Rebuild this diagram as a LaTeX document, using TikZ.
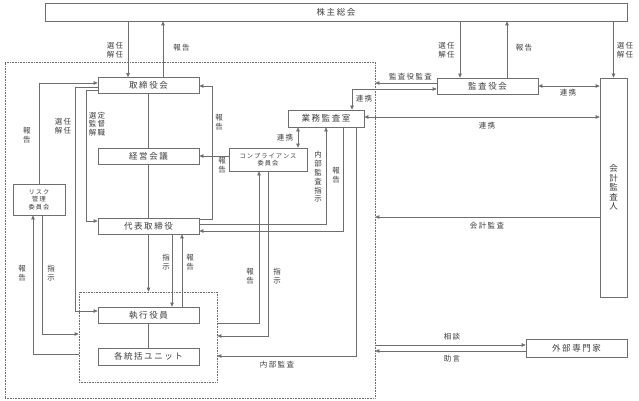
\documentclass[tikz,border=0pt]{standalone}
\usepackage{fontspec}
\setmainfont{Noto Sans CJK JP}[LetterSpace=18]
\usetikzlibrary{arrows.meta,positioning}
\definecolor{linec}{RGB}{110,110,110}
\definecolor{txtc}{RGB}{60,60,60}

\begin{document}
\begin{tikzpicture}[
  x=1pt, y=-1pt,
  >={Triangle[length=4pt,width=3.5pt]},
  box/.style={draw=linec, line width=0.7pt, text=txtc, inner sep=0pt, align=center,
    minimum width=101, minimum height=16, font=\fontsize{8.5}{9.5}\selectfont},
  small/.style={font=\fontsize{6.2}{7.5}\selectfont},
  grp/.style={draw=linec, densely dotted, line width=0.6pt, inner sep=0pt},
  lbl/.style={text=txtc, inner sep=0pt, align=center, font=\fontsize{7.5}{8.8}\selectfont},
  ln/.style={draw=linec, line width=0.7pt},
  arr/.style={->, ln},
  darr/.style={<->, ln}
]
\useasboundingbox (0,0) rectangle (639,401);

% groups
\node[grp, minimum width=370, minimum height=336] (corp) at (190,230) {};
\node[grp, minimum width=138, minimum height=90] (gyomu) at (148,337) {};

% boxes
\node[box, minimum width=582, minimum height=18] (soukai) at (336,12) {株主総会};
\node[box] (torishimari) at (148.5,85.5) {取締役会};
\node[box] (keiei) at (148.5,156) {経営会議};
\node[box] (daihyo) at (148.5,226) {代表取締役};
\node[box] (shikko) at (148.5,315) {執行役員};
\node[box, minimum height=17] (unit) at (148.5,356.5) {各統括ユニット};
\node[box, small, minimum width=52, minimum height=31] (risk) at (39,199.5) {リスク\\管理\\委員会};
\node[box, small, minimum width=78, minimum height=23] (comp) at (268,159.5) {コンプライアンス\\委員会};
\node[box, minimum width=76, minimum height=17] (naibu) at (326,118.5) {業務監査室};
\node[box] (kansayaku) at (487.5,86) {監査役会};
\node[box, minimum width=27, minimum height=219] (kaikei) at (613.5,187.5) {会\\計\\監\\査\\人};
\node[box, minimum height=18] (gaibu) at (576.5,348) {外部専門家};

% 株主総会
\draw[arr] (soukai.south -| 128,0) -- (torishimari.north -| 128,0);
\draw[arr] (torishimari.north -| 163,0) -- (soukai.south -| 163,0);
\draw[arr] (soukai.south -| 460,0) -- (kansayaku.north -| 460,0);
\draw[arr] (kansayaku.north -| 507,0) -- (soukai.south -| 507,0);
\draw[arr] (soukai.south -| kaikei.north) -- (kaikei.north);

% 監査役会 / 会計監査人 / 外部専門家
\draw[arr] (kansayaku.west |- 0,83) -- (corp.east |- 0,83);
\draw[darr] (naibu.north -| 352,0) |- (kansayaku.west |- 0,89);
\draw[darr] (kansayaku.east) -- (kansayaku.east -| kaikei.west);
\draw[darr] (naibu.east |- 0,117) -- (kaikei.west |- 0,117);
\draw[arr] (kaikei.west |- 0,217) -- (corp.east |- 0,217);
\draw[arr] (corp.east |- 0,345) -- (gaibu.west |- 0,345);
\draw[arr] (gaibu.west |- 0,351) -- (corp.east |- 0,351);

% left side
\draw[arr] (risk.north) |- (torishimari.west |- 0,83);
\draw[arr] (torishimari.west |- 0,87) -| (75,311) -- (shikko.west |- 0,311);
\draw[arr] (torishimari.west |- 0,90) -| (86,221) -- (daihyo.west |- 0,221);
\draw[arr] (risk.south -| 42,0) |- (gyomu.west |- 0,334);
\draw[arr] (gyomu.west |- 0,354) -| (risk.south -| 33,0);

% center column
\draw[ln] (torishimari.south) -- (keiei.north);
\draw[ln] (keiei.south) -- (daihyo.north);
\draw[arr] (daihyo.south) -- (daihyo.south |- gyomu.north);
\draw[ln] (shikko.south) -- (unit.north);
\draw[arr] (daihyo.south -| 172,0) -- (shikko.north -| 172,0);
\draw[arr] (shikko.north -| 182,0) -- (daihyo.south -| 182,0);

% right side
\draw[arr] (daihyo.east |- 0,219) -| (212,86) -- (torishimari.east |- 0,86);
\draw[arr] (comp.west |- 0,156) -- (keiei.east |- 0,156);
\draw[darr] (naibu.south -| 298,0) -- (comp.north -| 298,0);
\draw[arr] (daihyo.east |- 0,224) -| (naibu.south);
\draw[arr] (naibu.south -| 343,0) |- (daihyo.east |- 0,231);
\draw[arr] (naibu.south -| 356,0) |- (gyomu.east |- 0,356);
\draw[arr] (gyomu.east |- 0,323) -| (comp.south -| 259,0);
\draw[arr] (comp.south) |- (gyomu.east |- 0,336);

% labels
\node[lbl] (l-sh1) at (115,50) {選任\\解任};
\node[lbl] (l-sh2) at (181.5,48) {報告};
\node[lbl] (l-sh3) at (446.5,50) {選任\\解任};
\node[lbl] (l-sh4) at (524,48) {報告};
\node[lbl] (l-sh5) at (625,50) {選任\\解任};
\node[lbl] (l-ks1) at (410.5,77) {監査役監査};
\node[lbl] (l-ks2) at (364,99) {連携};
\node[lbl] (l-ks3) at (568,93) {連携};
\node[lbl] (l-ks4) at (487,126) {連携};
\node[lbl] (l-kk) at (487,226) {会計監査};
\node[lbl] (l-gb1) at (452,337) {相談};
\node[lbl] (l-gb2) at (452,359) {助言};
\node[lbl] (l-na) at (277,365) {内部監査};
\node[lbl] (l-r1) at (27,135) {報\\告};
\node[lbl] (l-t1) at (63,126) {選任\\解任};
\node[lbl] (l-t2) at (97,124) {選定\\監督\\解職};
\node[lbl] (l-t3) at (219,122) {報\\告};
\node[lbl] (l-c1) at (222,165) {報\\告};
\node[lbl] (l-c2) at (285,138) {連携};
\node[lbl] (l-n1) at (318,177) {内\\部\\監\\査\\指\\示};
\node[lbl] (l-n2) at (336,175) {報\\告};
\node[lbl] (l-d1) at (166,262) {指\\示};
\node[lbl] (l-d2) at (190,262) {報\\告};
\node[lbl] (l-c3) at (250,276) {報\\告};
\node[lbl] (l-c4) at (277,276) {指\\示};
\node[lbl] (l-r2) at (22,273) {報\\告};
\node[lbl] (l-r3) at (51,273) {指\\示};
\end{tikzpicture}
\end{document}
